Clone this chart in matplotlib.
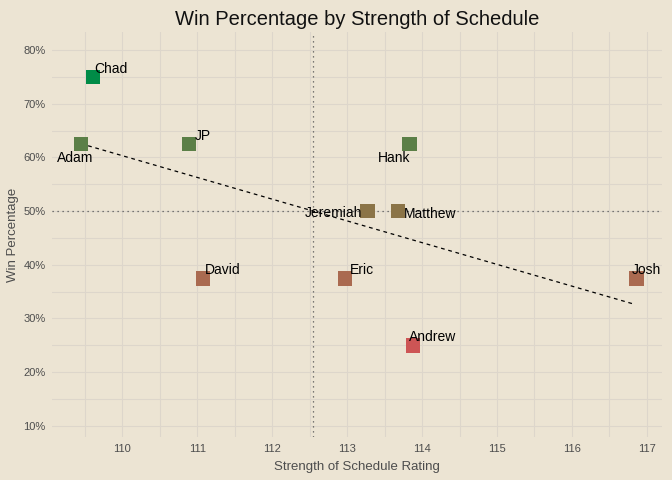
import matplotlib
matplotlib.use("Agg")
import matplotlib.pyplot as plt
from matplotlib.ticker import FuncFormatter, MultipleLocator
import numpy as np

# data
names = ["Adam", "Chad", "JP", "David", "Eric", "Jeremiah", "Matthew", "Hank", "Andrew", "Josh"]
sos = [109.45, 109.61, 110.89, 111.08, 112.97, 113.27, 113.68, 113.83, 113.88, 116.86]
win_pct = [0.625, 0.75, 0.625, 0.375, 0.375, 0.50, 0.50, 0.625, 0.25, 0.375]

# colour per win percentage
pct_colors = {0.75: "#008b47", 0.625: "#5b7f47", 0.50: "#8b7447", 0.375: "#aa6a50", 0.25: "#cd5555"}

# label offsets in points (dx, dy, ha, va)
label_pos = {
    "Adam": (-4, -10, "center", "center"),
    "Chad": (1, 6, "left", "center"),
    "JP": (4, 6, "left", "center"),
    "David": (1, 6, "left", "center"),
    "Eric": (4, 6, "left", "center"),
    "Jeremiah": (-4, -1, "right", "center"),
    "Matthew": (4, -2, "left", "center"),
    "Hank": (-11, -10, "center", "center"),
    "Andrew": (-3, 6, "left", "center"),
    "Josh": (-3, 6, "left", "center"),
}

bg = "#ece4d3"
grid_col = "#ddd6cb"
plt.rcParams["font.family"] = ["Liberation Sans", "DejaVu Sans"]

fig, ax = plt.subplots(figsize=(6.72, 4.8), dpi=100)
fig.patch.set_facecolor(bg)
ax.set_facecolor(bg)
fig.subplots_adjust(left=0.078, right=0.985, top=0.933, bottom=0.09)

x = np.array(sos)
y = np.array(win_pct)

ax.axvline(x.mean(), color="#555555", linestyle=(0, (1, 3)), linewidth=0.9, zorder=1)
ax.axhline(y.mean(), color="#555555", linestyle=(0, (1, 3)), linewidth=0.9, zorder=1)

slope, icpt = np.polyfit(x, y, 1)
xs = np.array([x.min(), x.max() - 0.06])
ax.plot(xs, slope * xs + icpt, color="black", linestyle=(0, (3, 3)), linewidth=0.9, zorder=2)

ax.scatter(x, y, marker="s", s=110, c=[pct_colors[v] for v in win_pct], linewidths=0, zorder=3)

for n, xi, yi in zip(names, sos, win_pct):
    dx, dy, ha, va = label_pos[n]
    ax.annotate(n, (xi, yi), xytext=(dx, dy), textcoords="offset points",
                ha=ha, va=va, fontsize=10, color="black", zorder=4)

ax.set_xlim(109.07, 117.2)
ax.set_ylim(0.0795, 0.8335)
ax.xaxis.set_major_locator(MultipleLocator(1))
ax.xaxis.set_minor_locator(MultipleLocator(0.5))
ax.yaxis.set_major_locator(MultipleLocator(0.1))
ax.yaxis.set_minor_locator(MultipleLocator(0.05))
ax.yaxis.set_major_formatter(FuncFormatter(lambda v, p: f"{v*100:.0f}%"))

ax.grid(True, which="both", color=grid_col, linewidth=0.8, zorder=0)
ax.set_axisbelow(True)
for s in ax.spines.values():
    s.set_visible(False)
ax.tick_params(which="both", length=0, labelsize=8, colors="#4d4d4d", pad=5)

ax.set_xlabel("Strength of Schedule Rating", fontsize=9.5, color="#4d4d4d", labelpad=5)
ax.set_ylabel("Win Percentage", fontsize=9.5, color="#4d4d4d", labelpad=3)
ax.set_title("Win Percentage by Strength of Schedule", fontsize=14.5, color="#111111", pad=5)

fig.savefig("out.png", dpi=100, facecolor=bg)
